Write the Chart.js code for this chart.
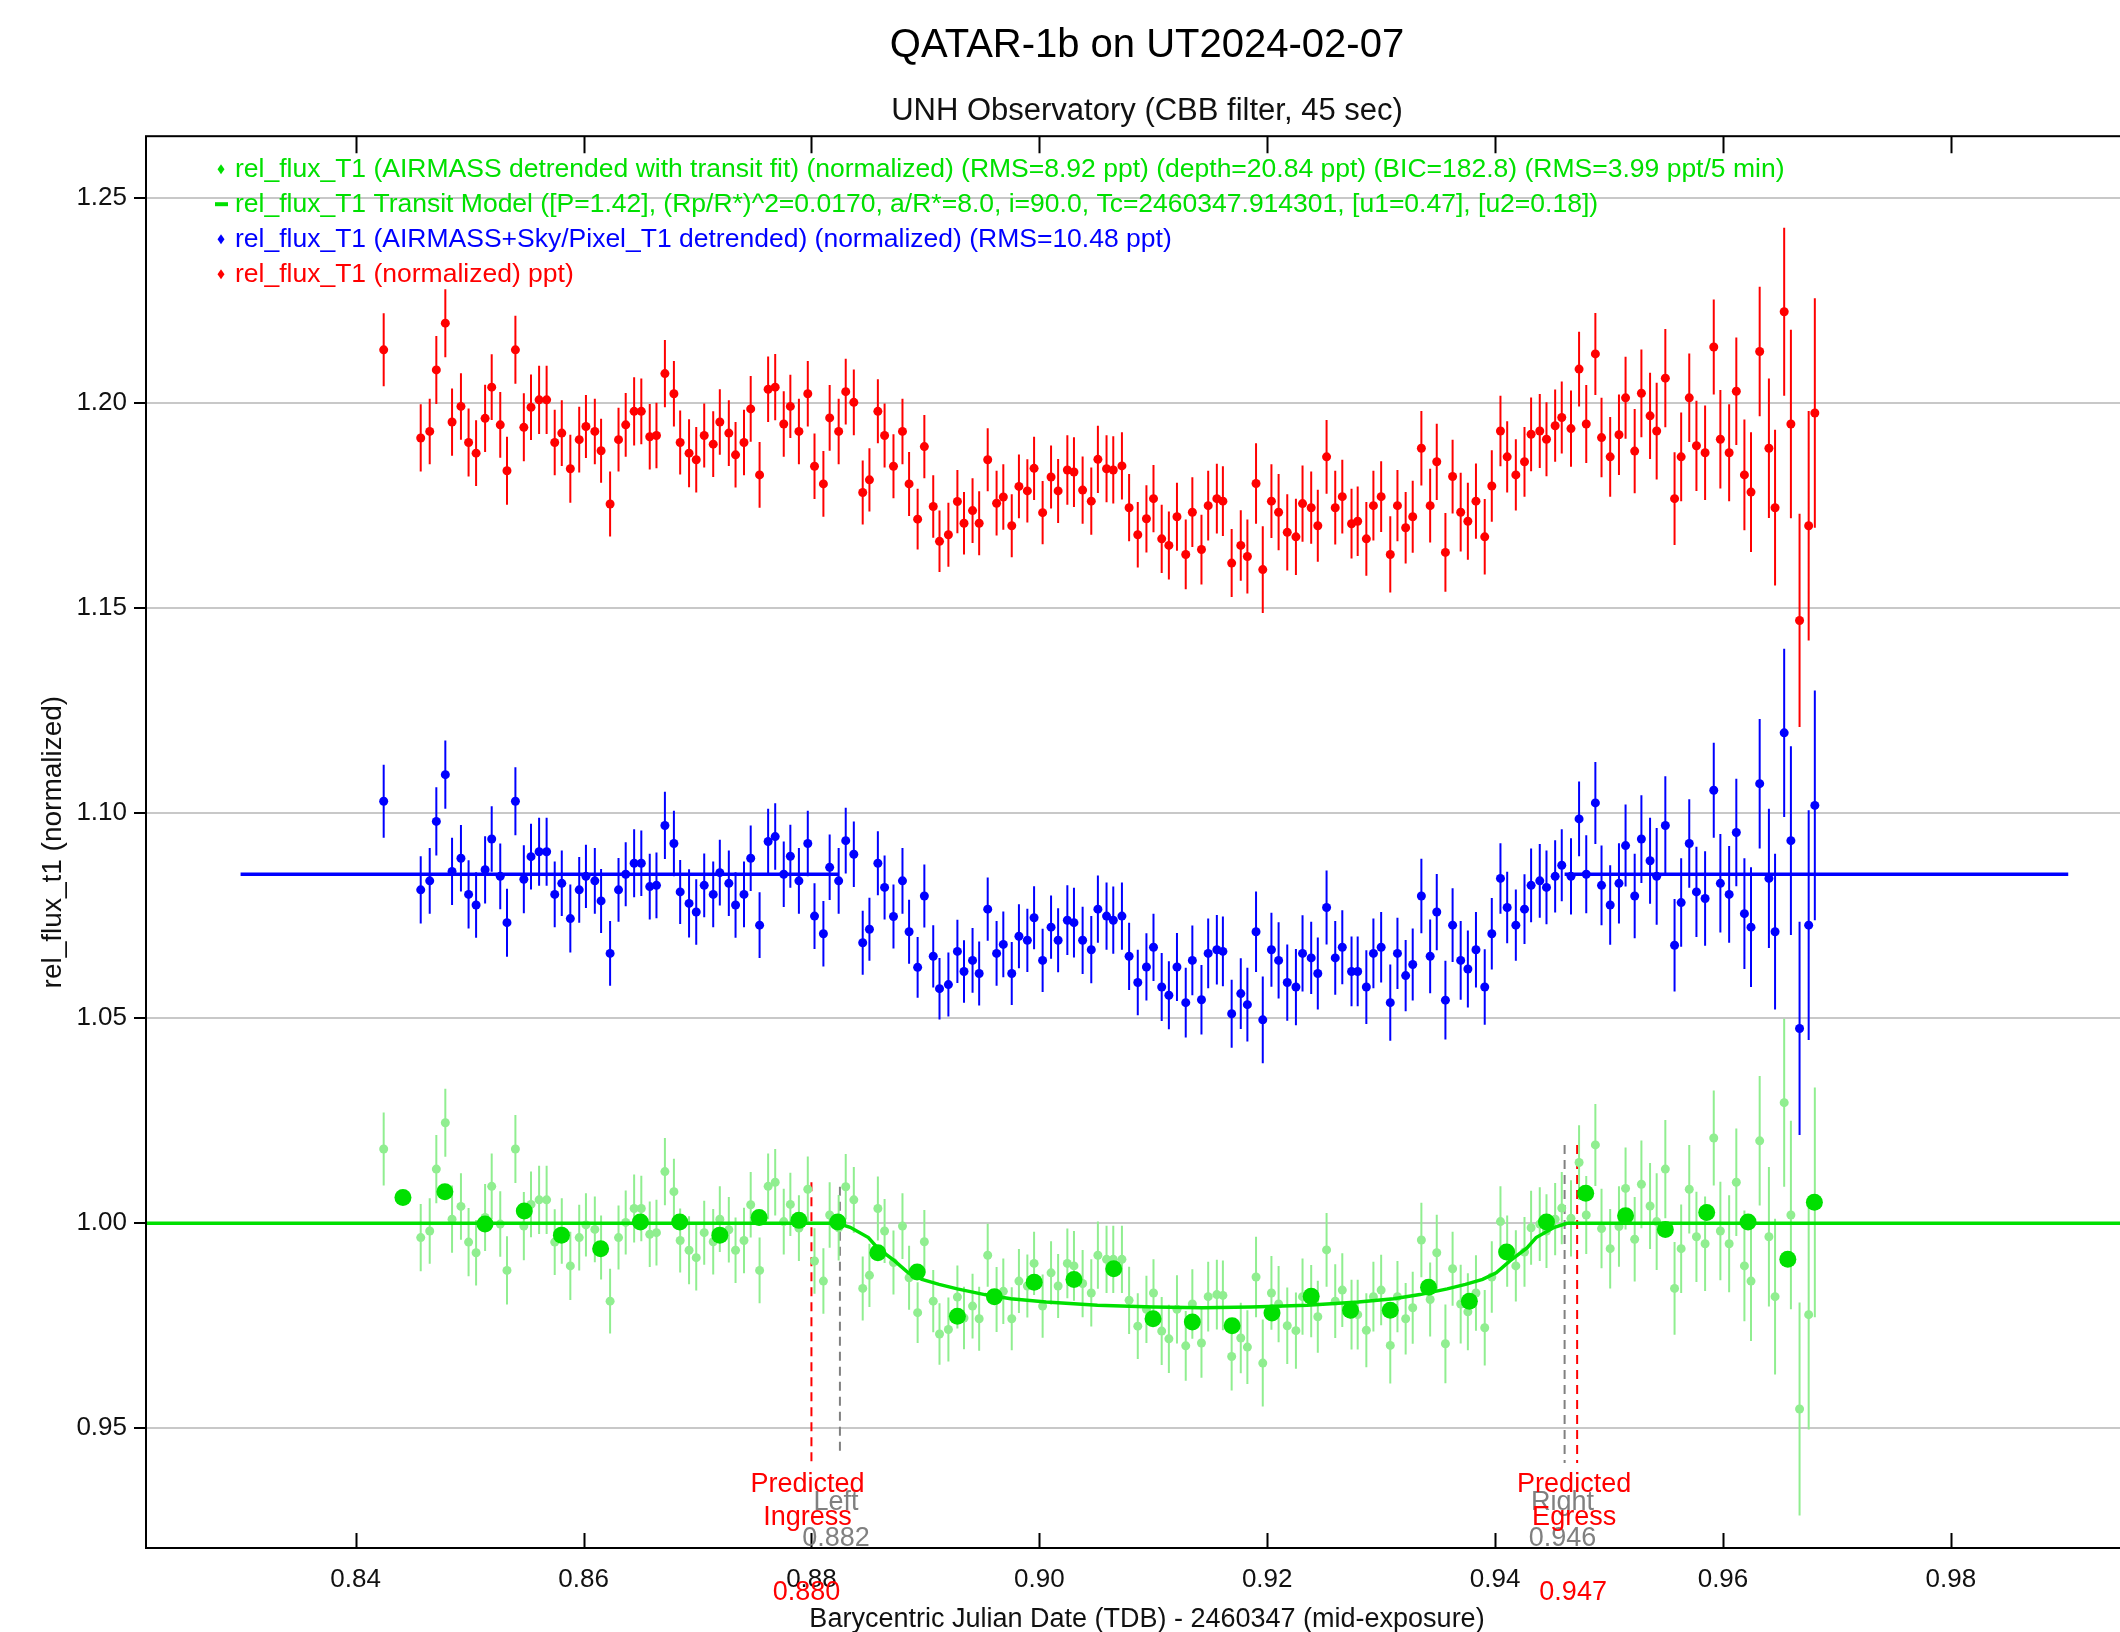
<!DOCTYPE html>
<html lang="en">
<head>
<meta charset="UTF-8">
<title>QATAR-1b on UT2024-02-07</title>
<script src="https://cdn.jsdelivr.net/npm/chart.js@4.4.1/dist/chart.umd.min.js"></script>
<style>
  html, body { margin: 0; padding: 0; overflow: hidden; background: #fff; }
  #wrap { width: 2200px; height: 1636px; }
</style>
</head>
<body>
<div id="wrap"><canvas id="lightcurve" width="2200" height="1636"></canvas></div>
<script>
// exposure mid-times, BJD_TDB - 2460347
const times = [
  0.84246, 0.84571, 0.84650, 0.84708, 0.84787, 0.84846, 0.84924, 0.84991, 0.85057, 0.85136,
  0.85194, 0.85269, 0.85328, 0.85402, 0.85476, 0.85539, 0.85610, 0.85676, 0.85747, 0.85809,
  0.85884, 0.85962, 0.86021, 0.86099, 0.86154, 0.86233, 0.86307, 0.86370, 0.86444, 0.86507,
  0.86581, 0.86640, 0.86714, 0.86793, 0.86848, 0.86926, 0.86989, 0.87059, 0.87138, 0.87196,
  0.87275, 0.87334, 0.87408, 0.87467, 0.87545, 0.87620, 0.87682, 0.87757, 0.87815, 0.87890,
  0.87968, 0.88027, 0.88105, 0.88160, 0.88239, 0.88301, 0.88372, 0.88450, 0.88509, 0.88583,
  0.88642, 0.88720, 0.88799, 0.88857, 0.88932, 0.88991, 0.89069, 0.89124, 0.89202, 0.89281,
  0.89339, 0.89414, 0.89472, 0.89547, 0.89625, 0.89684, 0.89758, 0.89821, 0.89895, 0.89954,
  0.90029, 0.90103, 0.90165,
  0.90246, 0.90304, 0.90380, 0.90456, 0.90514, 0.90590, 0.90649, 0.90725, 0.90788, 0.90864,
  0.90940, 0.91002, 0.91074, 0.91137, 0.91208, 0.91285, 0.91343, 0.91423, 0.91482, 0.91558,
  0.91611, 0.91688, 0.91768, 0.91826, 0.91902, 0.91961, 0.92037, 0.92100, 0.92176, 0.92252,
  0.92310, 0.92386, 0.92444, 0.92521, 0.92597, 0.92659, 0.92740, 0.92794, 0.92870, 0.92932,
  0.93000, 0.93080, 0.93143, 0.93215, 0.93277, 0.93353, 0.93430, 0.93488, 0.93564, 0.93627,
  0.93698, 0.93761, 0.93832, 0.93909, 0.93971, 0.94047, 0.94106, 0.94182, 0.94258, 0.94316,
  0.94392, 0.94451, 0.94527, 0.94585, 0.94666, 0.94737, 0.94800, 0.94880, 0.94934, 0.95010,
  0.95087, 0.95145, 0.95225, 0.95284, 0.95360, 0.95418, 0.95494, 0.95575, 0.95633, 0.95704,
  0.95767, 0.95843, 0.95919, 0.95977, 0.96054, 0.96117, 0.96188, 0.96246, 0.96322, 0.96403,
  0.96457, 0.96537, 0.96596, 0.96672, 0.96752, 0.96806
];

// red: rel_flux_T1 (normalized)
const rawFlux = [
  1.2130, 1.1915, 1.1931, 1.2081, 1.2195, 1.1954, 1.1992, 1.1904, 1.1878, 1.1963,
  1.2039, 1.1947, 1.1835, 1.2130, 1.1941, 1.1990, 1.2008, 1.2008, 1.1904, 1.1927,
  1.1840, 1.1911, 1.1943, 1.1931, 1.1884, 1.1754, 1.1911, 1.1947, 1.1980, 1.1980,
  1.1918, 1.1921, 1.2072, 1.2023, 1.1904, 1.1878, 1.1862, 1.1921, 1.1900, 1.1954,
  1.1927, 1.1874, 1.1904, 1.1986, 1.1825, 1.2034, 1.2039, 1.1949, 1.1992, 1.1931,
  1.2023, 1.1846, 1.1803, 1.1964, 1.1931, 1.2028, 1.2002, 1.1782, 1.1813, 1.1980,
  1.1921, 1.1846, 1.1931, 1.1803, 1.1717, 1.1894, 1.1748, 1.1663, 1.1679, 1.1760,
  1.1707, 1.1738, 1.1707, 1.1862, 1.1756, 1.1771, 1.1701, 1.1797, 1.1786, 1.1841,
  1.1733, 1.1820, 1.1786,
  1.1837, 1.1832, 1.1788, 1.1761, 1.1863, 1.1840, 1.1837, 1.1847, 1.1745, 1.1679,
  1.1718, 1.1767, 1.1669, 1.1653, 1.1723, 1.1631, 1.1734, 1.1643, 1.1750, 1.1767,
  1.1761, 1.1610, 1.1653, 1.1626, 1.1804, 1.1594, 1.1761, 1.1734, 1.1685, 1.1674,
  1.1755, 1.1745, 1.1701, 1.1869, 1.1745, 1.1772, 1.1706, 1.1712, 1.1669, 1.1750,
  1.1772, 1.1631, 1.1750, 1.1696, 1.1723, 1.1890, 1.1750, 1.1857, 1.1636, 1.1821,
  1.1734, 1.1712, 1.1761, 1.1674, 1.1798, 1.1932, 1.1869, 1.1825, 1.1857, 1.1924,
  1.1932, 1.1912, 1.1945, 1.1965, 1.1938, 1.2083, 1.1949, 1.2120, 1.1916, 1.1869,
  1.1923, 1.2013, 1.1883, 1.2024, 1.1969, 1.1932, 1.2061, 1.1767, 1.1869, 1.2013,
  1.1896, 1.1879, 1.2137, 1.1912, 1.1879, 1.2029, 1.1825, 1.1783, 1.2126, 1.1890,
  1.1745, 1.2223, 1.1949, 1.1470, 1.1701, 1.1976
];

// blue: AIRMASS+Sky/Pixel_T1 detrended
const detrendedFlux = [
  1.1029, 1.0813, 1.0835, 1.0980, 1.1094, 1.0858, 1.0890, 1.0802, 1.0776, 1.0862,
  1.0937, 1.0846, 1.0733, 1.1029, 1.0839, 1.0894, 1.0906, 1.0906, 1.0802, 1.0829,
  1.0743, 1.0813, 1.0846, 1.0835, 1.0786, 1.0658, 1.0813, 1.0851, 1.0878, 1.0878,
  1.0821, 1.0824, 1.0970, 1.0926, 1.0808, 1.0780, 1.0759, 1.0824, 1.0802, 1.0855,
  1.0829, 1.0776, 1.0802, 1.0890, 1.0727, 1.0931, 1.0943, 1.0851, 1.0895, 1.0835,
  1.0926, 1.0749, 1.0706, 1.0868, 1.0835, 1.0933, 1.0900, 1.0684, 1.0717, 1.0878,
  1.0819, 1.0748, 1.0835, 1.0711, 1.0624, 1.0798, 1.0651, 1.0572, 1.0582, 1.0663,
  1.0614, 1.0641, 1.0609, 1.0766, 1.0658, 1.0680, 1.0609, 1.0700, 1.0690, 1.0745,
  1.0641, 1.0722, 1.0690,
  1.0739, 1.0733, 1.0690, 1.0667, 1.0766, 1.0749, 1.0739, 1.0749, 1.0651, 1.0587,
  1.0625, 1.0673, 1.0576, 1.0556, 1.0625, 1.0538, 1.0641, 1.0545, 1.0658, 1.0667,
  1.0663, 1.0511, 1.0560, 1.0533, 1.0711, 1.0496, 1.0667, 1.0641, 1.0587, 1.0576,
  1.0658, 1.0647, 1.0609, 1.0770, 1.0647, 1.0673, 1.0614, 1.0614, 1.0576, 1.0658,
  1.0673, 1.0538, 1.0658, 1.0604, 1.0631, 1.0798, 1.0651, 1.0759, 1.0544, 1.0727,
  1.0641, 1.0620, 1.0667, 1.0576, 1.0706, 1.0841, 1.0770, 1.0727, 1.0766, 1.0824,
  1.0835, 1.0819, 1.0846, 1.0873, 1.0846, 1.0986, 1.0851, 1.1025, 1.0824, 1.0776,
  1.0829, 1.0921, 1.0798, 1.0937, 1.0884, 1.0846, 1.0970, 1.0678, 1.0782, 1.0926,
  1.0808, 1.0792, 1.1056, 1.0829, 1.0802, 1.0953, 1.0755, 1.0722, 1.1072, 1.0841,
  1.0711, 1.1196, 1.0933, 1.0475, 1.0727, 1.1019
];

// light green: AIRMASS detrended with transit fit
const fittedFlux = [
  1.0181, 0.9965, 0.9981, 1.0132, 1.0245, 1.0010, 1.0041, 0.9954, 0.9928, 1.0014,
  1.0090, 0.9998, 0.9885, 1.0181, 0.9993, 1.0046, 1.0057, 1.0057, 0.9954, 0.9981,
  0.9896, 0.9965, 0.9996, 0.9985, 0.9941, 0.9810, 0.9965, 1.0002, 1.0036, 1.0036,
  0.9973, 0.9977, 1.0126, 1.0077, 0.9958, 0.9934, 0.9916, 0.9977, 0.9955, 1.0010,
  0.9984, 0.9934, 0.9958, 1.0045, 0.9885, 1.0090, 1.0100, 1.0004, 1.0046, 0.9988,
  1.0083, 0.9908, 0.9859, 1.0020, 0.9989, 1.0089, 1.0057, 0.9841, 0.9873, 1.0036,
  0.9981, 0.9904, 0.9993, 0.9867, 0.9782, 0.9955, 0.9810, 0.9730, 0.9741, 0.9820,
  0.9769, 0.9798, 0.9767, 0.9922, 0.9814, 0.9834, 0.9767, 0.9859, 0.9847, 0.9902,
  0.9798, 0.9879, 0.9847,
  0.9902, 0.9896, 0.9853, 0.9830, 0.9922, 0.9912, 0.9912, 0.9912, 0.9812, 0.9749,
  0.9790, 0.9830, 0.9737, 0.9718, 0.9790, 0.9701, 0.9803, 0.9708, 0.9821, 0.9826,
  0.9824, 0.9675, 0.9720, 0.9698, 0.9869, 0.9659, 0.9830, 0.9803, 0.9750, 0.9738,
  0.9821, 0.9810, 0.9772, 0.9935, 0.9810, 0.9837, 0.9777, 0.9777, 0.9739, 0.9821,
  0.9837, 0.9702, 0.9821, 0.9767, 0.9794, 0.9959, 0.9814, 0.9928, 0.9706, 0.9889,
  0.9803, 0.9784, 0.9830, 0.9745, 0.9869, 1.0004, 0.9932, 0.9896, 0.9930, 0.9989,
  0.9998, 0.9981, 1.0010, 1.0037, 1.0012, 1.0148, 1.0020, 1.0191, 0.9987, 0.9938,
  0.9992, 1.0085, 0.9961, 1.0095, 1.0042, 1.0004, 1.0132, 0.9841, 0.9938, 1.0083,
  0.9967, 0.9950, 1.0208, 0.9981, 0.9950, 1.0100, 0.9896, 0.9859, 1.0201, 0.9967,
  0.9821, 1.0294, 1.0020, 0.9547, 0.9777, 1.0051
];

// 1-sigma flux errors (same for all three series)
const fluxErr = [
  0.0089, 0.0082, 0.0080, 0.0083, 0.0083, 0.0082, 0.0081, 0.0083, 0.0080, 0.0082,
  0.0080, 0.0080, 0.0083, 0.0083, 0.0083, 0.0080, 0.0083, 0.0083, 0.0080, 0.0080,
  0.0083, 0.0080, 0.0077, 0.0080, 0.0078, 0.0079, 0.0078, 0.0078, 0.0083, 0.0080,
  0.0080, 0.0080, 0.0082, 0.0080, 0.0078, 0.0083, 0.0080, 0.0078, 0.0080, 0.0080,
  0.0080, 0.0080, 0.0080, 0.0080, 0.0080, 0.0080, 0.0081, 0.0080, 0.0077, 0.0080,
  0.0080, 0.0080, 0.0080, 0.0080, 0.0080, 0.0080, 0.0080, 0.0078, 0.0077, 0.0078,
  0.0078, 0.0078, 0.0080, 0.0078, 0.0074, 0.0077, 0.0076, 0.0075, 0.0078, 0.0077,
  0.0076, 0.0079, 0.0078, 0.0077, 0.0079, 0.0080, 0.0077, 0.0078, 0.0077, 0.0077,
  0.0077, 0.0077, 0.0078,
  0.0085, 0.0085, 0.0082, 0.0082, 0.0082, 0.0082, 0.0082, 0.0082, 0.0082, 0.0080,
  0.0082, 0.0082, 0.0083, 0.0083, 0.0083, 0.0085, 0.0085, 0.0085, 0.0085, 0.0085,
  0.0085, 0.0083, 0.0086, 0.0090, 0.0098, 0.0106, 0.0090, 0.0093, 0.0093, 0.0093,
  0.0093, 0.0088, 0.0088, 0.0090, 0.0090, 0.0090, 0.0085, 0.0085, 0.0090, 0.0085,
  0.0086, 0.0093, 0.0087, 0.0087, 0.0088, 0.0091, 0.0090, 0.0093, 0.0096, 0.0090,
  0.0096, 0.0094, 0.0092, 0.0092, 0.0087, 0.0086, 0.0087, 0.0087, 0.0085, 0.0090,
  0.0090, 0.0090, 0.0088, 0.0088, 0.0093, 0.0091, 0.0095, 0.0100, 0.0097, 0.0097,
  0.0098, 0.0100, 0.0103, 0.0107, 0.0105, 0.0118, 0.0120, 0.0113, 0.0108, 0.0108,
  0.0110, 0.0115, 0.0116, 0.0120, 0.0118, 0.0131, 0.0135, 0.0146, 0.0158, 0.0170,
  0.0190, 0.0205, 0.0230, 0.0260, 0.0280, 0.0280
];

// binned (5 min) detrended points
const binTimes = [
  0.84415, 0.84783, 0.85135, 0.85480, 0.85806, 0.86150, 0.86499, 0.86844, 0.87196, 0.87541,
  0.87890, 0.88231, 0.88583, 0.88928, 0.89281, 0.89606, 0.89955, 0.90304, 0.90653, 0.90998,
  0.91343, 0.91692, 0.92042, 0.92386, 0.92731, 0.93080, 0.93416, 0.93774, 0.94101, 0.94451,
  0.94795, 0.95145, 0.95494, 0.95857, 0.96220, 0.96569, 0.96802
];
const binFlux = [
  1.0063, 1.0077, 0.9998, 1.0030, 0.9971, 0.9938, 1.0003, 1.0003, 0.9971, 1.0014,
  1.0007, 1.0003, 0.9928, 0.9881, 0.9773, 0.9821, 0.9856, 0.9863, 0.9889, 0.9767,
  0.9759, 0.9750, 0.9781, 0.9822, 0.9788, 0.9788, 0.9844, 0.9810, 0.9930, 1.0003,
  1.0073, 1.0018, 0.9985, 1.0026, 1.0003, 0.9912, 1.0051
];

// transit model curve
const modelTimes = [
  0.8216, 0.8823, 0.8834, 0.8850, 0.8858, 0.8873, 0.8885, 0.8897, 0.8912, 0.8928,
  0.8952, 0.8975, 0.9006, 0.9051, 0.9100, 0.9143, 0.9186, 0.9235, 0.9280, 0.9311,
  0.9334, 0.9358, 0.9374, 0.9389, 0.9401, 0.9413, 0.9428, 0.9436, 0.9452, 0.9463,
  0.9973
];
const modelFlux = [
  1.0000, 1.0000, 0.9990, 0.9965, 0.9940, 0.9908, 0.9879, 0.9863, 0.9851, 0.9840,
  0.9826, 0.9816, 0.9808, 0.9800, 0.9796, 0.9794, 0.9796, 0.9800, 0.9808, 0.9816,
  0.9826, 0.9840, 0.9851, 0.9863, 0.9879, 0.9908, 0.9940, 0.9965, 0.9990, 1.0000,
  1.0000
];

// blue model level (out of the fit window only)
const blueLineTimes = [0.8299, 0.8824, 0.9100, 0.9461, 0.9903];
const blueLineFlux = [1.0851, 1.0851, null, 1.0851, 1.0851];

// ingress / egress markers
const markerTimes = [0.8800, 0.8825, 0.9461, 0.9472];
const markerTop = [1.0100, 1.0089, 1.0191, 1.0191];
const markerBottom = [0.9414, 0.9440, 0.9415, 0.9415];

const xTicks = [0.84, 0.86, 0.88, 0.90, 0.92, 0.94, 0.96, 0.98];
const yTicks = [0.95, 1.00, 1.05, 1.10, 1.15, 1.20, 1.25];

const legendLines = [
  'rel_flux_T1 (AIRMASS detrended with transit fit) (normalized) (RMS=8.92 ppt) (depth=20.84 ppt) (BIC=182.8) (RMS=3.99 ppt/5 min)',
  'rel_flux_T1 Transit Model ([P=1.42], (Rp/R*)^2=0.0170, a/R*=8.0, i=90.0, Tc=2460347.914301, [u1=0.47], [u2=0.18])',
  'rel_flux_T1 (AIRMASS+Sky/Pixel_T1 detrended) (normalized) (RMS=10.48 ppt)',
  'rel_flux_T1 (normalized) ppt)'
];

const RED = '#ff0000';
const BLUE = '#0000ff';
const GREEN = '#00e000';
const LIGHT = '#90ee90';
const GREY = '#808080';
const FAMILY = '"Liberation Sans", Arial, sans-serif';

Chart.defaults.font.family = FAMILY;

const pts = (xs, ys) => xs.map((x, i) => ({ x: x, y: ys[i] }));
const errorBars = (ys) => {
  const out = [];
  times.forEach((t, i) => {
    out.push({ x: t, y: ys[i] - fluxErr[i] }, { x: t, y: ys[i] + fluxErr[i] }, { x: t, y: null });
  });
  return out;
};

const pointSet = (data, color, order) => ({
  type: 'scatter', data: data, backgroundColor: color, borderWidth: 0,
  pointRadius: 4.5, pointStyle: 'circle', order: order
});
const barSet = (data, color, order) => ({
  type: 'line', data: data, borderColor: color, borderWidth: 2, pointRadius: 0,
  spanGaps: false, tension: 0, order: order
});
const markerSet = (i, color) => ({
  type: 'line',
  data: [{ x: markerTimes[i], y: markerTop[i] }, { x: markerTimes[i], y: markerBottom[i] }],
  borderColor: color, borderWidth: 2, borderDash: [9, 6], pointRadius: 0, order: 8
});

// frame, inner tick marks, legend and marker labels
const decorations = {
  id: 'decorations',
  afterDraw(chart) {
    const { ctx, chartArea: a, scales: { x } } = chart;
    ctx.save();
    ctx.strokeStyle = '#000';
    ctx.lineWidth = 2;
    ctx.strokeRect(a.left, a.top, a.right - a.left, a.bottom - a.top);
    ctx.beginPath();
    xTicks.forEach(v => {
      const px = Math.round(x.getPixelForValue(v)) + 0.5;
      ctx.moveTo(px, a.bottom); ctx.lineTo(px, a.bottom - 15);
      ctx.moveTo(px, a.top); ctx.lineTo(px, a.top + 17);
    });
    ctx.stroke();

    // legend
    const colors = [GREEN, GREEN, BLUE, RED];
    ctx.font = '26.5px ' + FAMILY;
    ctx.textBaseline = 'middle';
    ctx.textAlign = 'left';
    legendLines.forEach((txt, i) => {
      const yy = a.top + 33 + i * 35;
      const mx = a.left + 75;
      ctx.fillStyle = colors[i];
      if (i === 1) {
        ctx.fillRect(mx - 6, yy - 2, 13, 4);
      } else {
        ctx.beginPath();
        ctx.moveTo(mx, yy - 5); ctx.lineTo(mx + 3.5, yy); ctx.lineTo(mx, yy + 5); ctx.lineTo(mx - 3.5, yy);
        ctx.closePath(); ctx.fill();
      }
      ctx.fillText(txt, a.left + 89, yy);
    });

    // ingress / egress labels
    ctx.font = '27px ' + FAMILY;
    ctx.textAlign = 'center';
    const label = (t, txt, dy, color, dx) => {
      ctx.fillStyle = color;
      ctx.fillText(txt, x.getPixelForValue(t) + dx, a.bottom + dy);
    };
    label(markerTimes[1], 'Left', -45, GREY, -4);
    label(markerTimes[1], '0.882', -9, GREY, -4);
    label(markerTimes[2], 'Right', -45, GREY, -2);
    label(markerTimes[2], '0.946', -9, GREY, -2);
    label(markerTimes[0], 'Predicted', -63, RED, -4);
    label(markerTimes[0], 'Ingress', -30, RED, -4);
    label(markerTimes[0], '0.880', 45, RED, -5);
    label(markerTimes[3], 'Predicted', -63, RED, -3);
    label(markerTimes[3], 'Egress', -30, RED, -3);
    label(markerTimes[3], '0.947', 45, RED, -4);
    ctx.restore();
  }
};

new Chart(document.getElementById('lightcurve'), {
  type: 'scatter',
  data: {
    datasets: [
      { type: 'scatter', data: pts(binTimes, binFlux), backgroundColor: GREEN, borderWidth: 0,
        pointRadius: 8.5, order: 1 },
      { type: 'line', data: pts(modelTimes, modelFlux), borderColor: GREEN, borderWidth: 3.5,
        pointRadius: 0, tension: 0, order: 2 },
      { type: 'line', data: pts(blueLineTimes, blueLineFlux), borderColor: BLUE, borderWidth: 3.5,
        pointRadius: 0, spanGaps: false, tension: 0, order: 3 },
      pointSet(pts(times, fittedFlux), LIGHT, 4),
      barSet(errorBars(fittedFlux), LIGHT, 5),
      pointSet(pts(times, detrendedFlux), BLUE, 4),
      barSet(errorBars(detrendedFlux), BLUE, 5),
      pointSet(pts(times, rawFlux), RED, 4),
      barSet(errorBars(rawFlux), RED, 5),
      markerSet(0, RED),
      markerSet(1, GREY),
      markerSet(2, GREY),
      markerSet(3, RED)
    ]
  },
  options: {
    responsive: false,
    animation: false,
    devicePixelRatio: 1,
    layout: { padding: { left: 0, right: 52, top: 0, bottom: 0 } },
    plugins: {
      legend: { display: false },
      tooltip: { enabled: false },
      title: {
        display: true, text: 'QATAR-1b on UT2024-02-07', color: '#000', fullSize: false,
        font: { size: 40, weight: 'normal' }, padding: { top: 22, bottom: 11 }
      },
      subtitle: {
        display: true, text: 'UNH Observatory (CBB filter, 45 sec)', color: '#111', fullSize: false,
        font: { size: 31 }, padding: { top: 12, bottom: 6 }
      }
    },
    scales: {
      x: {
        type: 'linear', min: 0.8216, max: 0.9973, offset: false,
        afterBuildTicks: axis => { axis.ticks = xTicks.map(v => ({ value: v })); },
        afterFit: axis => { axis.height = 88; },
        grid: { display: false },
        border: { display: false },
        ticks: {
          color: '#111', font: { size: 26 }, padding: 8, maxRotation: 0, autoSkip: false,
          callback: v => v.toFixed(2)
        },
        title: {
          display: true, text: 'Barycentric Julian Date (TDB) - 2460347 (mid-exposure)',
          color: '#111', font: { size: 27 }, padding: { top: 0, bottom: 0 }
        }
      },
      y: {
        type: 'linear', min: 0.9208, max: 1.2651,
        afterBuildTicks: axis => { axis.ticks = yTicks.map(v => ({ value: v })); },
        afterFit: axis => { axis.width = 146; },
        grid: { color: '#c8c8c8', lineWidth: 2, tickLength: 12, tickColor: '#000' },
        border: { display: false },
        ticks: {
          color: '#111', font: { size: 26 }, padding: 7,
          callback: v => v.toFixed(2)
        },
        title: {
          display: true, text: 'rel_flux_t1 (normalized)', color: '#111',
          font: { size: 28 }, padding: { top: 36, bottom: 0 }
        }
      }
    }
  },
  plugins: [decorations]
});
</script>
</body>
</html>
